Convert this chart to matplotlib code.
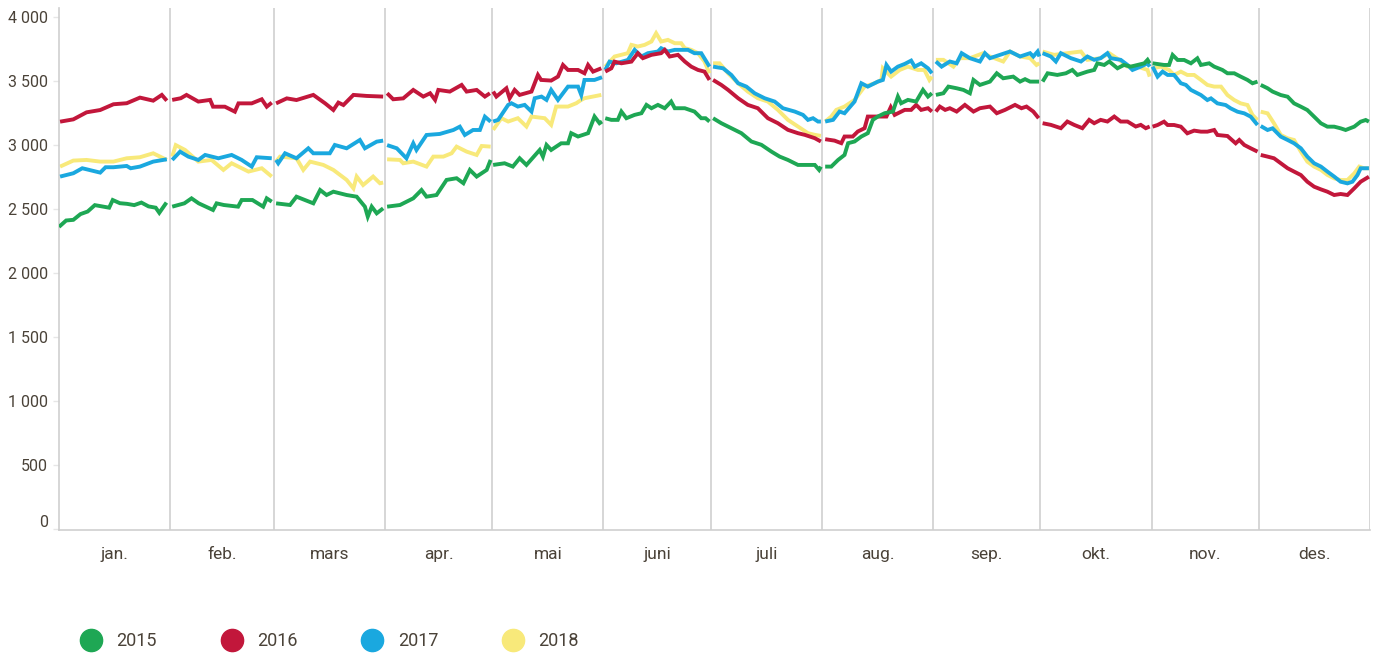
import numpy as np
import matplotlib.pyplot as plt
import matplotlib.transforms as mtransforms
from matplotlib.lines import Line2D
from matplotlib.ticker import FuncFormatter

plt.rcParams['font.family'] = ['Roboto', 'DejaVu Sans']

# ---- data (day of year, value) ------------------------------------------
months = ['jan.', 'feb.', 'mars', 'apr.', 'mai', 'juni', 'juli', 'aug.',
          'sep.', 'okt.', 'nov.', 'des.']
month_edges = [0, 31, 60, 91, 121, 152, 182, 213, 244, 274, 305, 335, 366]
years = ['2015', '2016', '2017', '2018']
colors = ['#1ea754', '#c2173b', '#1aa8df', '#f8e97a']

days_2015 = [0, 2, 4, 6, 8, 10, 12, 14, 15, 17, 19, 21, 23, 25, 27, 28, 30,
             31.6, 35, 37, 39, 43, 44, 46, 50, 51, 54, 57, 58, 59.4,
             60.6, 64.5, 66.3, 71, 72.9, 74.7, 76.6, 80.3, 83.1, 85.4, 86.2, 87.3, 88.7, 90.5,
             91.6, 95.2, 98.9, 101.2, 102.6, 105.4, 108.2, 111, 112.9, 114.7, 116.6, 119.4, 120.5,
             121.2, 124.4, 126.7, 128.6, 130.5, 134.2, 135.1, 136.1, 137.4, 140.2, 142.1, 143,
             144.9, 147.7, 149.5, 150.9, 151.6,
             152.5, 154.2, 156, 157, 158.4, 160.7, 162.6, 164, 165.4, 167.2, 169.1, 170.9, 171.9,
             174.7, 177.4, 179.3, 180.5, 181.6,
             182.6, 184.9, 187.7, 190.5, 193.3, 196.1, 198.9, 201.2, 203.5, 206.3, 209.1, 211,
             212.2, 212.7,
             213.9, 215.6, 217.5, 219.3, 220.3, 222.1, 224, 225.8, 227.2, 228.6, 230.5, 232.8,
             234.2, 235.1, 237, 239.3, 241.2, 242.6, 243.7,
             244.8, 246.9, 248.3, 250.6, 252.5, 254.3, 255.3, 257.1, 259.9, 261.8, 263.6, 266.4,
             268.3, 269.7, 271.1, 273.6,
             274.6, 276, 278.7, 281.1, 282.9, 284.3, 287.1, 289, 289.9, 291.8, 293.2, 295.5,
             297.3, 299.2, 301.1, 303, 303.9, 304.5,
             305.3, 308.5, 309.9, 310.9, 312.3, 314.1, 316, 317.8, 318.8, 321.1, 322.5, 324.8,
             326.2, 328.1, 329.9, 331.8, 333.2, 334.6,
             335.5, 337.4, 338.8, 341.1, 343, 344.8, 346.7, 348.5, 350.4, 352.3, 354.1, 356,
             357.8, 359.2, 361.6, 363.4, 364.8, 365.7]
vals_2015 = [2360, 2410, 2415, 2460, 2480, 2530, 2520, 2510, 2570, 2545, 2540, 2530, 2550, 2520, 2510, 2470, 2550,
             2518, 2544, 2583, 2544, 2492, 2544, 2531, 2518, 2570, 2570, 2518, 2583, 2557,
             2544, 2531, 2596, 2544, 2648, 2609, 2635, 2609, 2596, 2518, 2440, 2518, 2466, 2505,
             2518, 2531, 2583, 2648, 2596, 2609, 2727, 2740, 2701, 2805, 2753, 2805, 2883,
             2844, 2857, 2831, 2896, 2844, 2961, 2909, 3000, 2961, 3013, 3013, 3092,
             3066, 3092, 3222, 3170, 3183,
             3209, 3196, 3196, 3261, 3209, 3235, 3248, 3313, 3287, 3313, 3287, 3339, 3287,
             3287, 3261, 3209, 3209, 3183,
             3209, 3170, 3131, 3092, 3027, 3001, 2948, 2909, 2883, 2844, 2844, 2844,
             2805, 2831,
             2831, 2831, 2883, 2922, 3014, 3027, 3066, 3092, 3196, 3222, 3248, 3261,
             3378, 3326, 3352, 3339, 3430, 3378, 3404,
             3391, 3404, 3456, 3443, 3430, 3404, 3508, 3469, 3495, 3560, 3521, 3534,
             3495, 3514, 3495, 3495,
             3495, 3560, 3547, 3560, 3586, 3547, 3573, 3586, 3638, 3625, 3652, 3599,
             3625, 3612, 3625, 3638, 3665, 3638,
             3638, 3625, 3625, 3703, 3664, 3664, 3638, 3677, 3625, 3638, 3612, 3586,
             3560, 3560, 3534, 3508, 3482, 3495,
             3469, 3443, 3417, 3390, 3377, 3325, 3299, 3273, 3221, 3169, 3143, 3143,
             3130, 3117, 3143, 3182, 3195, 3182]

days_2016 = [0.3, 4, 7.7, 11.5, 15.2, 18.9, 22.6, 26.3, 28.7, 30.1,
             31.6, 34, 35.6, 38.9, 42.2, 43, 46.3, 49.1, 50.1, 53.8, 56.6, 58, 59.4,
             60.6, 63.6, 66.3, 71, 74.3, 76.6, 78, 79.4, 82.2, 85.9, 90.5,
             91.6, 93.3, 96.1, 98.9, 101.7, 103.6, 105, 105.9, 109.1, 112.4, 113.8, 116.6, 118.9, 120.3,
             121.2, 122.1, 124.9, 125.8, 127.2, 128.6, 131.9, 133.7, 134.6, 137.4, 139.3, 140.7,
             142.1, 144.9, 146.7, 147.7, 149.1, 151.4,
             152.5, 154.2, 155.1, 157, 159.8, 161.6, 163, 165.4, 168.1, 169.1, 170.5, 172.8,
             174.7, 176.5, 178.4, 180.2, 181.6,
             182.6, 184.9, 186.8, 189.6, 192.3, 195.1, 197.9, 200.7, 203.5, 206.3, 208.2, 211, 212.7,
             213.9, 216.5, 218.4, 219.3, 221.6, 223, 224.9, 225.8, 227.7, 229.6, 231, 232.2,
             233.3, 236.1, 237.9, 239.3, 240.7, 242.6, 243.7,
             244.8, 245.9, 247.4, 248.7, 250.6, 252.9, 255.3, 257.1, 259.9, 261.8, 264.1, 266.9,
             268.7, 270.1, 272, 273.5,
             274.6, 276.9, 279.7, 281.5, 283.4, 285.7, 287.6, 289, 290.8, 292.7, 294.6, 296.4,
             298.3, 300.6, 302, 303.4, 304.5,
             305.3, 306.7, 308.5, 309.5, 311.3, 313.2, 315, 316.9, 318.8, 320.6, 322.5, 323.4,
             326.2, 328.5, 329.5, 330.9, 332.7, 334.6,
             335.5, 337.4, 339.2, 341.1, 343, 344.8, 346.7, 348.5, 350.4, 352.3, 354.1, 356,
             357.8, 359.7, 361.6, 363.4, 365.7]
vals_2016 = [3182, 3200, 3255, 3273, 3318, 3326, 3370, 3346, 3391, 3346,
             3352, 3365, 3391, 3339, 3352, 3299, 3299, 3260, 3325, 3325, 3357, 3299, 3331,
             3325, 3364, 3351, 3391, 3325, 3273, 3331, 3312, 3391, 3383, 3378,
             3404, 3357, 3364, 3430, 3378, 3404, 3352, 3430, 3417, 3469, 3417, 3430, 3378, 3404,
             3417, 3378, 3443, 3365, 3430, 3391, 3417, 3547, 3508, 3503, 3534, 3625,
             3586, 3586, 3560, 3625, 3573, 3599,
             3573, 3599, 3651, 3638, 3651, 3717, 3678, 3704, 3717, 3743, 3691, 3704,
             3652, 3612, 3586, 3573, 3508,
             3508, 3469, 3430, 3365, 3313, 3287, 3209, 3170, 3118, 3092, 3079, 3053, 3027,
             3045, 3034, 3014, 3066, 3066, 3105, 3131, 3222, 3222, 3222, 3222, 3295,
             3235, 3274, 3274, 3313, 3274, 3287, 3261,
             3261, 3300, 3274, 3287, 3261, 3313, 3261, 3287, 3300, 3248, 3274, 3313,
             3287, 3300, 3261, 3209,
             3170, 3157, 3131, 3183, 3157, 3131, 3196, 3170, 3196, 3183, 3222, 3183,
             3183, 3144, 3157, 3131, 3144,
             3143, 3156, 3182, 3156, 3156, 3143, 3091, 3112, 3104, 3104, 3117, 3078,
             3070, 3013, 3039, 3000, 2974, 2948,
             2922, 2909, 2896, 2857, 2818, 2792, 2765, 2713, 2674, 2653, 2635, 2609,
             2617, 2609, 2661, 2713, 2752]

days_2017 = [0.3, 4, 6.5, 7.7, 11.5, 13, 15.2, 18.9, 20, 22.6, 26.3, 30.1,
             31.6, 33.8, 36.1, 38.9, 40.8, 44.5, 48.2, 51, 53.8, 55.2, 59.4,
             60.6, 61.2, 63.1, 66.3, 69.6, 71, 75.6, 77, 80.3, 84, 85.4, 88.7, 90.5,
             91.6, 94.3, 97, 98.9, 99.8, 102.6, 106.3, 110.1, 111.9, 113.3, 115.6, 117.5, 118.9, 120.5,
             121.2, 122.6, 125.4, 126.3, 128.1, 130, 131.9, 132.8, 134.7, 136.1, 137.4, 139.3,
             142.1, 144.9, 145.8, 146.7, 149.5, 151.6,
             152.5, 153.7, 155.6, 158.8, 160.7, 162.6, 164.4, 167.2, 168.1, 170, 171.9, 175.6,
             177.4, 179.3, 181.6,
             182.6, 185.4, 187.7, 189.6, 191.9, 194.2, 197, 199.8, 202.1, 205.4, 207.7, 209.1,
             210.5, 211.9, 212.7,
             213.9, 216.1, 217.9, 219.3, 222.1, 224, 225.8, 228.6, 230, 231, 232.3, 234.2,
             236.1, 237.9, 238.9, 240.7, 242.6, 243.7,
             244.8, 246.4, 248.7, 250.6, 252, 254.3, 257.1, 258.5, 259.9, 262.7, 265.5, 268.3,
             271.1, 272, 273.2, 273.7,
             274.6, 276.9, 278.3, 279.7, 282.5, 285.3, 287.1, 289, 290.8, 292.7, 293.6, 296.4,
             298.3, 299.7, 302, 303.9, 304.5,
             305.3, 306.7, 308.1, 309.5, 311.3, 313.2, 314.6, 316, 318.8, 320.6, 321.6, 323.4,
             325.7, 327.1, 329, 330.9, 332.7, 334.6,
             335.5, 337.4, 338.8, 341.1, 343, 344.8, 346.7, 348.5, 350.4, 352.3, 354.1, 356,
             357.8, 359.7, 361.1, 362.5, 363.4, 365.7]
vals_2017 = [2753, 2779, 2818, 2810, 2784, 2826, 2826, 2836, 2818, 2831, 2870, 2888,
             2883, 2948, 2909, 2883, 2922, 2896, 2922, 2883, 2831, 2904, 2896,
             2883, 2857, 2935, 2896, 2974, 2935, 2935, 3000, 2974, 3039, 2974, 3026, 3034,
             2999, 2974, 2896, 3013, 2961, 3078, 3086, 3117, 3143, 3078, 3117, 3117, 3221, 3182,
             3183, 3196, 3313, 3326, 3300, 3313, 3261, 3365, 3378, 3352, 3430, 3352,
             3456, 3456, 3391, 3508, 3508, 3529,
             3586, 3651, 3638, 3664, 3743, 3691, 3717, 3730, 3756, 3730, 3743, 3743,
             3717, 3717, 3612,
             3612, 3599, 3547, 3482, 3456, 3404, 3365, 3339, 3287, 3261, 3235, 3196,
             3209, 3183, 3183,
             3183, 3196, 3261, 3248, 3339, 3482, 3456, 3495, 3508, 3625, 3573, 3612,
             3633, 3659, 3612, 3638, 3599, 3560,
             3652, 3612, 3652, 3638, 3717, 3678, 3652, 3717, 3678, 3704, 3730, 3691,
             3717, 3691, 3730, 3691,
             3717, 3691, 3652, 3717, 3678, 3652, 3691, 3665, 3678, 3717, 3678, 3665,
             3625, 3586, 3612, 3638, 3612,
             3612, 3534, 3573, 3547, 3547, 3482, 3469, 3430, 3390, 3351, 3364, 3325,
             3312, 3286, 3260, 3247, 3221, 3156,
             3148, 3117, 3130, 3065, 3039, 3013, 2974, 2909, 2857, 2831, 2792, 2753,
             2713, 2700, 2713, 2765, 2818, 2818]

days_2018 = [0.3, 4, 7.7, 11.5, 15.2, 18.9, 22.6, 26.3, 30.1,
             31.6, 32.6, 35.2, 38.9, 42.6, 45.9, 48.2, 52.9, 56.6, 59.4,
             60.6, 61.7, 66.3, 68.2, 70.1, 73.8, 76.6, 80.3, 82.2, 83.1, 84.9, 87.7, 89.6, 90.5,
             91.6, 95.2, 96.1, 98.9, 102.6, 104.5, 107.3, 109.6, 111, 113.8, 116.6, 118, 120.5,
             121.2, 123.5, 125.4, 128.1, 130.5, 131.9, 135.6, 137.4, 138.8, 142.1, 144.4, 145.8,
             146.7, 151.4,
             152.5, 155.1, 158.8, 159.8, 161.6, 163.5, 165.4, 166.7, 168.1, 170, 171.9, 173.7,
             174.7, 176.5, 178.4, 180.2, 181.6,
             182.6, 184.4, 186.8, 189.6, 192.3, 195.1, 197.9, 200.7, 203.5, 206.3, 209.1, 211, 212.7,
             213.9, 215.6, 217, 219.3, 222.1, 224.9, 227.7, 229.6, 230, 232.3, 234.7, 237,
             239.8, 241.6, 243, 243.7,
             244.8, 246.9, 249.7, 251.5, 254.3, 258, 259.9, 263.6, 265.5, 268.3, 271.1, 272.9, 273.7,
             274.6, 277.8, 281.5, 285.3, 287.1, 290.8, 293.2, 296, 298.3, 301.1, 303.9, 304.5,
             305.3, 307.6, 309.9, 311.3, 313.2, 315, 316.9, 318.8, 320.6, 322.5, 324.4, 326.2,
             328.1, 329.9, 331.8, 333.2, 334.6,
             335.5, 337.4, 339.2, 341.1, 343, 344.8, 346.7, 348.5, 350.4, 352.3, 354.1, 356,
             357.8, 359.7, 361.6, 363, 364.3, 365.7]
vals_2018 = [2831, 2878, 2883, 2870, 2870, 2896, 2904, 2935, 2883,
             2909, 2999, 2961, 2870, 2883, 2805, 2857, 2792, 2818, 2753,
             2870, 2909, 2896, 2805, 2870, 2844, 2805, 2727, 2661, 2753, 2687, 2753, 2701, 2706,
             2888, 2883, 2857, 2870, 2831, 2909, 2909, 2935, 2987, 2948, 2922, 2992, 2987,
             3118, 3209, 3183, 3209, 3144, 3222, 3209, 3157, 3300, 3300, 3326, 3352,
             3365, 3391,
             3612, 3691, 3717, 3782, 3769, 3782, 3808, 3873, 3808, 3821, 3795, 3795,
             3756, 3743, 3717, 3652, 3560,
             3638, 3638, 3560, 3482, 3417, 3365, 3339, 3274, 3196, 3144, 3092, 3079, 3071,
             3183, 3222, 3274, 3300, 3352, 3456, 3482, 3508, 3599, 3534, 3586, 3612,
             3586, 3586, 3508, 3534,
             3665, 3665, 3612, 3678, 3678, 3717, 3691, 3652, 3730, 3691, 3678, 3625, 3638,
             3730, 3704, 3717, 3730, 3665, 3678, 3717, 3665, 3612, 3612, 3586, 3534,
             3599, 3612, 3586, 3547, 3573, 3547, 3547, 3508, 3469, 3456, 3456, 3390,
             3351, 3325, 3312, 3234, 3195,
             3260, 3247, 3169, 3078, 3052, 3039, 2948, 2870, 2831, 2805, 2766, 2739,
             2726, 2726, 2778, 2831, 2818, 2818]

series = [(days_2015, vals_2015), (days_2016, vals_2016),
          (days_2017, vals_2017), (days_2018, vals_2018)]

text_color = '#4a4238'
grid_color = '#cfcfcf'

fig = plt.figure(figsize=(13.8, 6.55), dpi=100)
ax = fig.add_axes([59 / 1380, 1 - 530 / 655, 1311 / 1380, 522 / 655])

# draw order: yellow at the bottom, green on top
zorders = [5, 4, 3, 2]
for (d, v), c, z in zip(series, colors, zorders):
    d = np.asarray(d, dtype=float)
    v = np.asarray(v, dtype=float)
    m = np.searchsorted(month_edges, d, side='right') - 1
    for k in range(12):
        sel = m == k
        if sel.any():
            ax.plot(d[sel], v[sel], color=c, lw=2.8, zorder=z,
                    solid_joinstyle='miter', solid_capstyle='butt')

for e in month_edges[1:]:
    ax.axvline(e, color=grid_color, lw=1.2, zorder=1)

ax.set_xlim(0, 366)
ax.set_ylim(-8, 4070)
ax.set_yticks(np.arange(0, 4001, 500))
ax.yaxis.set_major_formatter(FuncFormatter(lambda y, _: f'{int(y):,}'.replace(',', ' ')))
ax.tick_params(axis='y', length=4, width=1, color='#e6e6e6', colors=text_color,
               labelsize=11.5, pad=4)
for t in ax.get_yticklabels():
    t.set_color(text_color)
# the zero label sits a little above the baseline
zero_lab = ax.get_yticklabels()[0]
zero_lab.set_transform(zero_lab.get_transform() +
                       mtransforms.ScaledTranslation(0, 8 / 100, fig.dpi_scale_trans))

centers = [(a + b) / 2 for a, b in zip(month_edges[:-1], month_edges[1:])]
ax.set_xticks(centers)
ax.set_xticklabels(months)
ax.tick_params(axis='x', length=0, labelsize=12.5, pad=12, labelcolor=text_color)

for s in ['top', 'right']:
    ax.spines[s].set_visible(False)
ax.spines['left'].set_color(grid_color)
ax.spines['bottom'].set_color(grid_color)
ax.spines['left'].set_linewidth(1.2)
ax.spines['bottom'].set_linewidth(1.2)

handles = [Line2D([], [], ls='none', marker='o', markersize=16,
                  markerfacecolor=c, markeredgecolor=c) for c in colors]
fig.legend(handles, years, loc='center left', bbox_to_anchor=(82 / 1380, 1 - 641 / 655),
           ncol=4, frameon=False, fontsize=13, handlelength=1.0,
           handletextpad=0.9, columnspacing=3.65, labelcolor=text_color,
           borderaxespad=0, borderpad=0)

fig.savefig('out.png', dpi=100)
